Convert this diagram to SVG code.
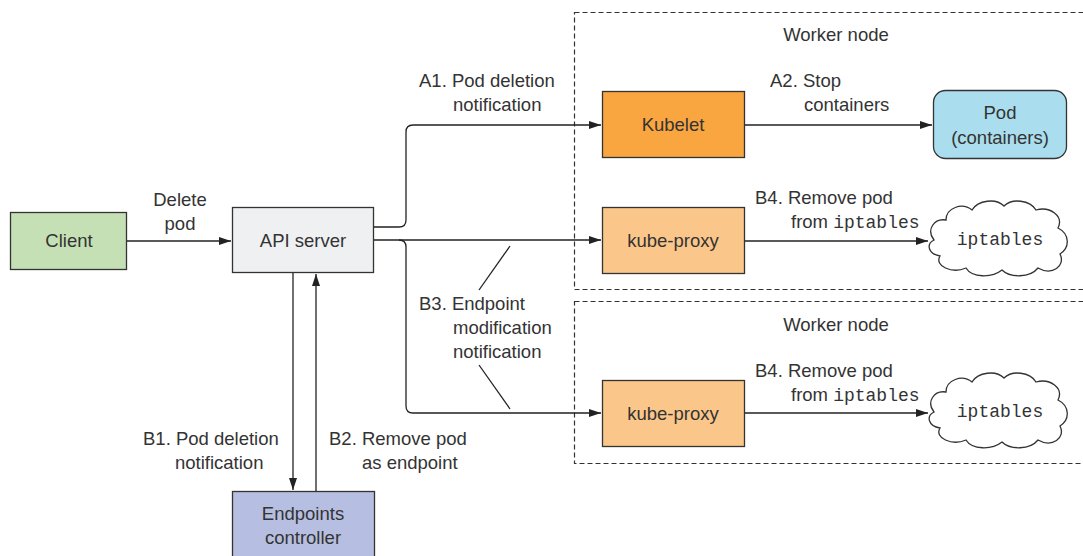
<svg xmlns="http://www.w3.org/2000/svg" width="1083" height="556" viewBox="0 0 1083 556">
<defs>
<marker id="ah" markerWidth="12" markerHeight="8" refX="12" refY="4" orient="auto" markerUnits="userSpaceOnUse">
<path d="M0,0 L12,4 L0,8 Z" fill="#222"/>
</marker>
<path id="cloud" d="M6,40 C-2,30 6,18 18,20 C18,8 34,2 44,10 C50,0 68,-2 76,6 C84,-2 102,0 108,10 C122,6 136,16 130,28 C142,34 142,48 132,54 C138,66 124,76 110,68 C102,78 82,78 74,70 C64,78 44,78 38,68 C24,74 6,66 12,56 C0,54 -2,44 6,40 Z"/>
</defs>
<style>
text{font-family:"Liberation Sans",Arial,sans-serif;font-size:18.5px;fill:#333}
.mono{font-family:"Liberation Mono","Courier New",monospace;font-size:18px}
.box{stroke:#333;stroke-width:1.3}
.conn{fill:none;stroke:#222;stroke-width:1.3}
.dash{fill:none;stroke:#333;stroke-width:1.2;stroke-dasharray:5,3}
.c{text-anchor:middle}
</style>
<rect width="1083" height="556" fill="#fff"/>
<g id="worker1">
<rect class="dash" x="574.5" y="12.5" width="520" height="277"/>
<text x="836" y="41" class="c">Worker node</text>
</g>
<g id="worker2">
<rect class="dash" x="574.5" y="301.5" width="520" height="162"/>
<text x="836" y="331" class="c">Worker node</text>
</g>
<g id="connectors">
<line class="conn" x1="127" y1="241" x2="231" y2="241" marker-end="url(#ah)"/>
<path class="conn" d="M374,227 H399 Q406,227 406,220 V132 Q406,125 413,125 H601" marker-end="url(#ah)"/>
<line class="conn" x1="374" y1="240" x2="601" y2="240" marker-end="url(#ah)"/>
<path class="conn" d="M399,240 Q406,240 406,247 V406 Q406,413 413,413 H601" marker-end="url(#ah)"/>
<line class="conn" x1="745" y1="125" x2="932" y2="125" marker-end="url(#ah)"/>
<line class="conn" x1="745" y1="241" x2="928" y2="241" marker-end="url(#ah)"/>
<line class="conn" x1="745" y1="413" x2="928" y2="413" marker-end="url(#ah)"/>
<line class="conn" x1="293" y1="273" x2="293" y2="490" marker-end="url(#ah)"/>
<line class="conn" x1="316" y1="491" x2="316" y2="274" marker-end="url(#ah)"/>
<line class="conn" x1="510" y1="246" x2="479" y2="290"/>
<line class="conn" x1="479" y1="365" x2="510" y2="409"/>
</g>
<g id="labels">
<text x="180" y="206" class="c">Delete</text>
<text x="180" y="230" class="c">pod</text>
<text x="419" y="87">A1. Pod deletion</text>
<text x="453" y="111">notification</text>
<text x="770" y="87">A2. Stop</text>
<text x="804" y="111">containers</text>
<text x="755" y="204">B4. Remove pod</text>
<text x="791" y="228">from <tspan class="mono">iptables</tspan></text>
<text x="755" y="377">B4. Remove pod</text>
<text x="791" y="401">from <tspan class="mono">iptables</tspan></text>
<text x="419" y="310">B3. Endpoint</text>
<text x="453" y="334">modification</text>
<text x="453" y="358">notification</text>
<text x="143" y="445">B1. Pod deletion</text>
<text x="175" y="469">notification</text>
<text x="329" y="445">B2. Remove pod</text>
<text x="362" y="469">as endpoint</text>
</g>
<g id="client">
<rect class="box" x="10.5" y="212.5" width="116" height="57" fill="#C5E0B4"/>
<text x="69" y="247" class="c">Client</text>
</g>
<g id="api-server">
<rect class="box" x="232.5" y="207.5" width="141" height="65" fill="#EFF0F2"/>
<text x="303" y="247" class="c">API server</text>
</g>
<g id="kubelet">
<rect class="box" x="602.5" y="91.5" width="142" height="66" fill="#F9A641"/>
<text x="673" y="131" class="c">Kubelet</text>
</g>
<g id="pod">
<rect class="box" x="933.5" y="90.5" width="133" height="68" rx="12" fill="#AADDEE"/>
<text x="1000" y="119" class="c">Pod</text>
<text x="1000" y="144" class="c">(containers)</text>
</g>
<g id="kube-proxy-1">
<rect class="box" x="602.5" y="207.5" width="142" height="66" fill="#FBC689"/>
<text x="673" y="247" class="c">kube-proxy</text>
</g>
<g id="kube-proxy-2">
<rect class="box" x="602.5" y="380.5" width="142" height="66" fill="#FBC689"/>
<text x="673" y="420" class="c">kube-proxy</text>
</g>
<g id="iptables-1">
<use href="#cloud" x="928" y="200" fill="#fff" stroke="#333" stroke-width="1.3"/>
<text x="1000" y="245" class="c mono">iptables</text>
</g>
<g id="iptables-2">
<use href="#cloud" x="928" y="372" fill="#fff" stroke="#333" stroke-width="1.3"/>
<text x="1000" y="417" class="c mono">iptables</text>
</g>
<g id="endpoints-controller">
<rect class="box" x="232.5" y="491.5" width="142" height="80" fill="#B6BFE1"/>
<text x="303" y="520" class="c">Endpoints</text>
<text x="303" y="544" class="c">controller</text>
</g>
</svg>
